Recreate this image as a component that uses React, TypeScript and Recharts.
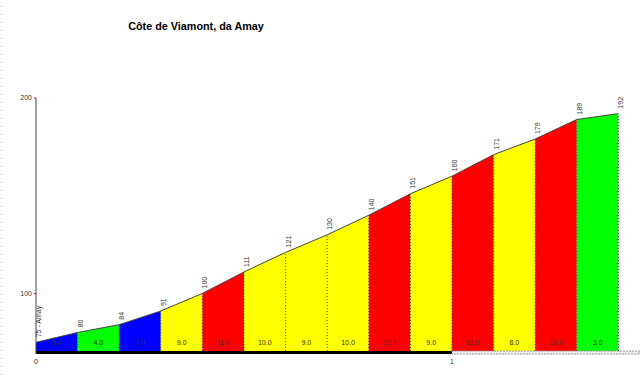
import React from 'react';
import {
  ComposedChart, Area, Line, XAxis, YAxis, ReferenceLine, ReferenceArea, Scatter, LabelList,
} from 'recharts';

const DIST = [0, 0.1, 0.2, 0.3, 0.4, 0.5, 0.6, 0.7, 0.8, 0.9, 1.0, 1.1, 1.2, 1.3, 1.4];
const ELEV = [75, 80, 84, 91, 100, 111, 121, 130, 140, 151, 160, 171, 179, 189, 192];
const POINT_LABELS = ['75 - Amay', '80', '84', '91', '100', '111', '121', '130', '140', '151', '160', '171', '179', '189', '192'];
const GRADES = ['5.0', '4.0', '7.0', '9.0', '11.0', '10.0', '9.0', '10.0', '11.0', '9.0', '11.0', '8.0', '10.0', '3.0'];
const SEG_COLORS = ['#0000ff', '#00ff00', '#0000ff', '#ffff00', '#ff0000', '#ffff00', '#ffff00', '#ffff00', '#ff0000', '#ffff00', '#ff0000', '#ffff00', '#ff0000', '#00ff00'];
const X_TICKS = [0, 1];
const Y_TICKS = [100, 200];
const TITLE = 'Côte de Viamont, da Amay';

const Y_MIN = 69;
const Y_BASE = 70.5;
const Y_MAX = 200;
const X_MAX = 1.452;

const data = DIST.map((d, j) => {
  const row: any = { d, elev: ELEV[j], label: POINT_LABELS[j] };
  if (j > 0) row[`s${j - 1}`] = ELEV[j];
  if (j < DIST.length - 1) row[`s${j}`] = ELEV[j];
  return row;
});

const gradeData = GRADES.map((g, i) => ({ d: (DIST[i] + DIST[i + 1]) / 2, y: Y_BASE, g }));

const FONT = '"Liberation Sans", Arial, sans-serif';

const PointLabel = (props: any) => {
  const { x, y, value } = props;
  const px = x + 5;
  const py = y - 5;
  return (
    <text x={px} y={py} transform={`rotate(-90 ${px} ${py})`} fontSize={7} fontFamily={FONT} fill="#333" textAnchor="start">
      {value}
    </text>
  );
};

const GradeLabel = (props: any) => {
  const { x, y, width, value } = props;
  const cx = x + (width || 0) / 2;
  return (
    <text x={cx} y={y - 2} fontSize={7} fontFamily={FONT} fill="#333" textAnchor="middle">
      {value}
    </text>
  );
};

export default function App() {
  return (
    <div style={{ position: 'absolute', left: 0, top: 0, width: 640, height: 379, background: '#fff', fontFamily: FONT }}>
      <div style={{ position: 'absolute', left: 1, top: 0, width: 1, height: 379, backgroundImage: 'repeating-linear-gradient(to bottom, transparent 0px, transparent 6px, #aaa 6px, #aaa 7px, transparent 7px, transparent 8px)' }} />
      <div style={{ position: 'absolute', left: 0, top: 20, width: 392, textAlign: 'center', fontWeight: 'bold', fontSize: 10.8, fontFamily: FONT, color: '#000' }}>
        {TITLE}
      </div>
      <ComposedChart width={640} height={379} data={data} margin={{ top: 98, right: 0, bottom: 0, left: 0 }}>
        <XAxis
          dataKey="d"
          type="number"
          domain={[0, X_MAX]}
          ticks={X_TICKS}
          allowDataOverflow
          axisLine={false}
          tickLine={false}
          tickSize={3}
          height={25}
          tick={{ fontSize: 7, fill: '#333', fontFamily: FONT }}
        />
        <YAxis
          type="number"
          domain={[Y_MIN, Y_MAX]}
          ticks={Y_TICKS}
          allowDataOverflow
          width={36}
          axisLine={{ stroke: '#444' }}
          tickLine={{ stroke: '#ff0000' }}
          tickSize={2}
          tick={{ fontSize: 7, fill: '#333', fontFamily: FONT }}
        />
        {GRADES.map((_, i) => (
          <Area
            key={`a${i}`}
            dataKey={`s${i}`}
            type="linear"
            baseValue={Y_MIN}
            stroke="none"
            fill={SEG_COLORS[i]}
            fillOpacity={1}
            isAnimationActive={false}
            connectNulls={false}
            dot={false}
            activeDot={false}
          />
        ))}
        {DIST.slice(1).map((d, k) => (
          <ReferenceLine
            key={`v${k}`}
            segment={[{ x: d, y: Y_BASE }, { x: d, y: ELEV[k + 1] }]}
            stroke="#444"
            strokeDasharray="1 2"
            strokeWidth={1}
          />
        ))}
        <ReferenceArea x1={0} x2={1} y1={Y_MIN} y2={Y_BASE} fill="#000" fillOpacity={1} stroke="none" />
        <ReferenceArea x1={1} x2={X_MAX} y1={Y_MIN} y2={Y_BASE} fill="#eeeeee" fillOpacity={1} stroke="#999" strokeDasharray="2 1" />
        <Line
          dataKey="elev"
          type="linear"
          stroke="#444"
          strokeWidth={1}
          dot={false}
          activeDot={false}
          isAnimationActive={false}
        >
          <LabelList dataKey="label" content={PointLabel} />
        </Line>
        <Scatter data={gradeData} dataKey="y" isAnimationActive={false} shape={() => <g />}>
          <LabelList dataKey="g" content={GradeLabel} />
        </Scatter>
      </ComposedChart>
    </div>
  );
}
